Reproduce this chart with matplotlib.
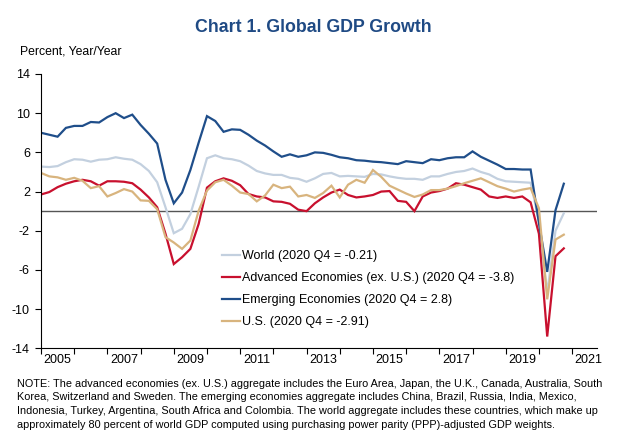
import numpy as np
import matplotlib
matplotlib.use("Agg")
import matplotlib.pyplot as plt

plt.rcParams['font.family'] = ['Liberation Sans', 'DejaVu Sans']
plt.rcParams['axes.unicode_minus'] = False

# quarterly data, 2005Q1 .. 2020Q4 (year/year percent)
start_year = 2005
world = [4.55, 4.5, 4.6, 5.0, 5.3, 5.25, 5.05, 5.25, 5.3, 5.5, 5.35, 5.25,
         4.8, 4.1, 2.95, 0.4, -2.25, -1.8, -0.3, 2.5, 5.4, 5.7, 5.4, 5.3,
         5.1, 4.65, 4.1, 3.85, 3.7, 3.7, 3.4, 3.3, 3.0, 3.35,
         3.8, 3.9, 3.55, 3.6, 3.55, 3.5, 3.8, 3.75, 3.55, 3.4, 3.3, 3.3,
         3.2, 3.55, 3.55, 3.8, 4.0, 4.1, 4.35, 4.0, 3.75, 3.3, 3.05, 3.0,
         2.95, 2.9, -1.0, -8.3, -2.0, -0.21]
advanced = [1.7, 1.95, 2.45, 2.8, 3.05, 3.2, 3.05, 2.6, 3.05, 3.05, 3.0, 2.85,
            2.2, 1.4, 0.4, -2.3, -5.4, -4.7, -3.85, -1.3, 2.4, 3.05, 3.35, 3.1,
            2.65, 1.75, 1.5, 1.4, 1.0, 0.95, 0.75, 0.15, 0.0, 0.8,
            1.4, 1.9, 2.2, 1.65, 1.4, 1.5, 1.65, 2.0, 2.05, 1.05, 0.95, 0.0,
            1.5, 1.9, 2.05, 2.3, 2.85, 2.7, 2.45, 2.2, 1.5, 1.35, 1.5, 1.35,
            1.5, 0.9, -2.3, -12.8, -4.6, -3.8]
emerging = [8.0, 7.8, 7.6, 8.5, 8.7, 8.7, 9.1, 9.05, 9.6, 10.0, 9.5, 9.85,
            8.8, 7.9, 6.9, 3.2, 0.8, 1.9, 4.2, 7.0, 9.7, 9.2, 8.1, 8.35,
            8.3, 7.8, 7.2, 6.7, 6.1, 5.55, 5.8, 5.55, 5.7, 6.0,
            5.95, 5.75, 5.5, 5.4, 5.2, 5.15, 5.05, 5.0, 4.9, 4.8, 5.1, 5.0,
            4.9, 5.3, 5.2, 5.4, 5.5, 5.5, 6.1, 5.55, 5.15, 4.75, 4.3, 4.3,
            4.25, 4.25, -1.2, -6.2, 0.1, 2.8]
us = [3.9, 3.55, 3.45, 3.2, 3.4, 3.1, 2.35, 2.55, 1.5, 1.85, 2.25, 2.0,
      1.1, 1.05, 0.2, -2.65, -3.2, -3.85, -3.0, 0.05, 2.1, 2.95, 3.2, 2.6,
      1.9, 1.75, 1.0, 1.6, 2.7, 2.35, 2.5, 1.5, 1.65, 1.35,
      1.85, 2.6, 1.4, 2.7, 3.2, 2.9, 4.2, 3.5, 2.6, 2.2, 1.8, 1.45,
      1.7, 2.15, 2.15, 2.3, 2.55, 2.85, 3.1, 3.35, 2.95, 2.55, 2.3, 2.0,
      2.2, 2.35, 0.3, -9.0, -2.9, -2.4]

labels = ['World (2020 Q4 = -0.21)',
          'Advanced Economies (ex. U.S.) (2020 Q4 = -3.8)',
          'Emerging Economies (2020 Q4 = 2.8)',
          'U.S. (2020 Q4 = -2.91)']
colors = ['#C3D0DF', '#C8102E', '#1F4E8A', '#D8B47E']
yticks = [14, 10, 6, 2, -2, -6, -10, -14]
year_labels = list(range(2005, 2022, 2))

note = ["NOTE: The advanced economies (ex. U.S.) aggregate includes the Euro Area, Japan, the U.K., Canada, Australia, South",
        "Korea, Switzerland and Sweden. The emerging economies aggregate includes China, Brazil, Russia, India, Mexico,",
        "Indonesia, Turkey, Argentina, South Africa and Colombia. The world aggregate includes these countries, which make up",
        "approximately 80 percent of world GDP computed using purchasing power parity (PPP)-adjusted GDP weights."]

x = start_year + np.arange(len(world)) / 4.0

W, H = 618, 432
fig = plt.figure(figsize=(W / 100, H / 100), dpi=100)
ax = fig.add_axes([41 / W, 1 - 348.3 / H, (597 - 41) / W, (348.3 - 74) / H])

for series, c, lab in zip([world, advanced, emerging, us], colors, labels):
    ax.plot(x, series, color=c, lw=1.6, label=lab, solid_joinstyle='miter')

ax.axhline(0, color='#555555', lw=1.0, zorder=1)

ax.set_xlim(2005, 2021.75)
ax.set_ylim(-14, 14)
ax.set_yticks(yticks)
ax.set_yticklabels([str(t) for t in yticks])
ax.set_xticks(np.arange(2005, 2022))
ax.set_xticklabels([])
ax.set_xticks([y + 0.5 for y in year_labels], minor=True)
ax.set_xticklabels([str(y) for y in year_labels], minor=True)
ax.tick_params(axis='x', which='major', direction='out', length=4, width=0.8)
ax.tick_params(axis='x', which='minor', length=0, labelsize=9, pad=4)
ax.tick_params(axis='y', direction='out', length=4, width=0.8, labelsize=9, pad=4)
for s in ['top', 'right']:
    ax.spines[s].set_visible(False)
for s in ['left', 'bottom']:
    ax.spines[s].set_linewidth(0.8)

leg = ax.legend(loc='upper left', bbox_to_anchor=(221.7 / W, 1 - 250 / H),
                bbox_transform=fig.transFigure, frameon=False, fontsize=9,
                handlelength=1.5, handletextpad=0.15, labelspacing=0.8,
                borderpad=0, borderaxespad=0)

fig.text(313 / W, 1 - 28 / H, 'Chart 1. Global GDP Growth', ha='center', va='center',
         fontsize=12.8, fontweight='bold', color='#1F4A84')
fig.text(20 / W, 1 - 52 / H, 'Percent, Year/Year', ha='left', va='center', fontsize=8.8)

for i, line in enumerate(note):
    fig.text(17 / W, 1 - (384 + 13.5 * i) / H, line, ha='left', va='center', fontsize=7.8)

fig.savefig('out.png', dpi=100)
